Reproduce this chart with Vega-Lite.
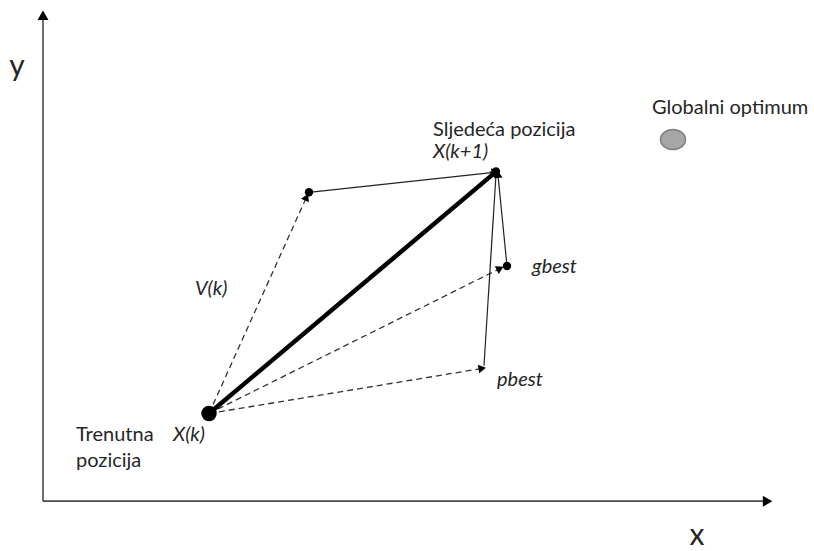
{
  "$schema": "https://vega.github.io/schema/vega-lite/v6.json",
  "width": 814,
  "height": 551,
  "padding": 0,
  "autosize": {"type": "fit", "contains": "padding"},
  "background": "white",
  "config": {"view": {"stroke": null}, "text": {"font": "Lato"}},
  "datasets": {
    "segs": [
      {"id": "yaxis", "kind": "axis", "x1": 0, "y1": 0, "x2": 0, "y2": 486},
      {"id": "xaxis", "kind": "axis", "x1": 0, "y1": 0, "x2": 723, "y2": 0},
      {"id": "v", "kind": "dashed", "x1": 166, "y1": 88, "x2": 263, "y2": 304},
      {"id": "g", "kind": "dashed", "x1": 166, "y1": 88, "x2": 456, "y2": 233},
      {"id": "p", "kind": "dashed", "x1": 166, "y1": 88, "x2": 438, "y2": 133},
      {"id": "vx", "kind": "thin", "x1": 266, "y1": 310, "x2": 451, "y2": 330},
      {"id": "px", "kind": "thin", "x1": 441, "y1": 136, "x2": 453, "y2": 328},
      {"id": "gx", "kind": "thin", "x1": 464, "y1": 236, "x2": 455, "y2": 327},
      {"id": "step", "kind": "thick", "x1": 166, "y1": 88, "x2": 451, "y2": 329}
    ],
    "dots": [
      {"name": "X(k)", "kind": "big", "x": 166, "y": 88},
      {"name": "V", "kind": "small", "x": 266, "y": 310},
      {"name": "gbest", "kind": "small", "x": 464, "y": 236},
      {"name": "X(k+1)", "kind": "small", "x": 453, "y": 331},
      {"name": "opt", "kind": "opt", "x": 630, "y": 363}
    ],
    "labels": [
      {"text": "Globalni optimum", "style": "plain", "x": 609, "y": 395},
      {"text": "Sljedeća pozicija", "style": "plain", "x": 390, "y": 373},
      {"text": "X(k+1)", "style": "italic", "x": 390, "y": 350},
      {"text": "gbest", "style": "italic", "x": 489, "y": 235},
      {"text": "pbest", "style": "italic", "x": 454, "y": 122},
      {"text": "V(k)", "style": "italic", "x": 152, "y": 213},
      {"text": "X(k)", "style": "italic", "x": 130, "y": 66},
      {"text": "Trenutna", "style": "plain", "x": 33, "y": 66},
      {"text": "pozicija", "style": "plain", "x": 33, "y": 40},
      {"text": "y", "style": "axis", "x": -26, "y": 436},
      {"text": "x", "style": "axis", "x": 654, "y": -35}
    ]
  },
  "layer": [
    {
      "data": {"name": "segs"},
      "transform": [{"filter": "datum.kind === 'axis'"}],
      "mark": {"type": "rule", "stroke": "#4a4a4a", "strokeWidth": 1.6},
      "encoding": {
        "x": {"field": "x1", "type": "quantitative", "scale": {"domain": [-43, 771], "nice": false, "zero": false}, "axis": null},
        "y": {"field": "y1", "type": "quantitative", "scale": {"domain": [-48, 503], "nice": false, "zero": false}, "axis": null},
        "x2": {"field": "x2"},
        "y2": {"field": "y2"}
      }
    },
    {
      "data": {"name": "segs"},
      "transform": [{"filter": "datum.kind === 'dashed'"}],
      "mark": {"type": "rule", "stroke": "#333333", "strokeWidth": 1.3, "strokeDash": [6, 4]},
      "encoding": {
        "x": {"field": "x1", "type": "quantitative", "scale": {"domain": [-43, 771], "nice": false, "zero": false}, "axis": null},
        "y": {"field": "y1", "type": "quantitative", "scale": {"domain": [-48, 503], "nice": false, "zero": false}, "axis": null},
        "x2": {"field": "x2"},
        "y2": {"field": "y2"}
      }
    },
    {
      "data": {"name": "segs"},
      "transform": [{"filter": "datum.kind === 'thin'"}],
      "mark": {"type": "rule", "stroke": "#222222", "strokeWidth": 1.2},
      "encoding": {
        "x": {"field": "x1", "type": "quantitative", "scale": {"domain": [-43, 771], "nice": false, "zero": false}, "axis": null},
        "y": {"field": "y1", "type": "quantitative", "scale": {"domain": [-48, 503], "nice": false, "zero": false}, "axis": null},
        "x2": {"field": "x2"},
        "y2": {"field": "y2"}
      }
    },
    {
      "data": {"name": "segs"},
      "transform": [{"filter": "datum.kind === 'thick'"}],
      "mark": {"type": "rule", "stroke": "#000000", "strokeWidth": 4.5},
      "encoding": {
        "x": {"field": "x1", "type": "quantitative", "scale": {"domain": [-43, 771], "nice": false, "zero": false}, "axis": null},
        "y": {"field": "y1", "type": "quantitative", "scale": {"domain": [-48, 503], "nice": false, "zero": false}, "axis": null},
        "x2": {"field": "x2"},
        "y2": {"field": "y2"}
      }
    },
    {
      "data": {"name": "segs"},
      "transform": [
        {"calculate": "atan2(datum.x2 - datum.x1, datum.y2 - datum.y1) * 180 / PI", "as": "ang"}
      ],
      "mark": {"type": "point", "shape": "triangle", "filled": true, "fill": "#000000", "stroke": null, "opacity": 1},
      "encoding": {
        "x": {"field": "x2", "type": "quantitative", "scale": {"domain": [-43, 771], "nice": false, "zero": false}, "axis": null},
        "y": {"field": "y2", "type": "quantitative", "scale": {"domain": [-48, 503], "nice": false, "zero": false}, "axis": null},
        "angle": {"field": "ang", "type": "quantitative", "scale": null},
        "size": {"condition": {"test": "datum.kind === 'axis'", "value": 120}, "value": 75}
      }
    },
    {
      "data": {"name": "dots"},
      "transform": [{"filter": "datum.kind !== 'opt'"}],
      "mark": {"type": "point", "shape": "circle", "filled": true, "fill": "#000000", "stroke": null, "opacity": 1},
      "encoding": {
        "x": {"field": "x", "type": "quantitative", "scale": {"domain": [-43, 771], "nice": false, "zero": false}, "axis": null},
        "y": {"field": "y", "type": "quantitative", "scale": {"domain": [-48, 503], "nice": false, "zero": false}, "axis": null},
        "size": {"condition": {"test": "datum.kind === 'big'", "value": 240}, "value": 70}
      }
    },
    {
      "data": {"name": "dots"},
      "transform": [{"filter": "datum.kind === 'opt'"}],
      "mark": {"type": "point", "shape": "M-1.25,0A1.25,1,0,1,0,1.25,0A1.25,1,0,1,0,-1.25,0Z", "filled": true, "fill": "#a6a6a6", "stroke": "#7f7f7f", "strokeWidth": 1.5, "opacity": 1, "size": 400},
      "encoding": {
        "x": {"field": "x", "type": "quantitative", "scale": {"domain": [-43, 771], "nice": false, "zero": false}, "axis": null},
        "y": {"field": "y", "type": "quantitative", "scale": {"domain": [-48, 503], "nice": false, "zero": false}, "axis": null}
      }
    },
    {
      "data": {"name": "labels"},
      "transform": [{"filter": "datum.style === 'plain'"}],
      "mark": {"type": "text", "align": "left", "baseline": "middle", "fontSize": 20, "color": "#262626"},
      "encoding": {
        "x": {"field": "x", "type": "quantitative", "scale": {"domain": [-43, 771], "nice": false, "zero": false}, "axis": null},
        "y": {"field": "y", "type": "quantitative", "scale": {"domain": [-48, 503], "nice": false, "zero": false}, "axis": null},
        "text": {"field": "text"}
      }
    },
    {
      "data": {"name": "labels"},
      "transform": [{"filter": "datum.style === 'italic'"}],
      "mark": {"type": "text", "align": "left", "baseline": "middle", "fontSize": 20, "fontStyle": "italic", "color": "#262626"},
      "encoding": {
        "x": {"field": "x", "type": "quantitative", "scale": {"domain": [-43, 771], "nice": false, "zero": false}, "axis": null},
        "y": {"field": "y", "type": "quantitative", "scale": {"domain": [-48, 503], "nice": false, "zero": false}, "axis": null},
        "text": {"field": "text"}
      }
    },
    {
      "data": {"name": "labels"},
      "transform": [{"filter": "datum.style === 'axis'"}],
      "mark": {"type": "text", "align": "center", "baseline": "middle", "fontSize": 30, "color": "#262626"},
      "encoding": {
        "x": {"field": "x", "type": "quantitative", "scale": {"domain": [-43, 771], "nice": false, "zero": false}, "axis": null},
        "y": {"field": "y", "type": "quantitative", "scale": {"domain": [-48, 503], "nice": false, "zero": false}, "axis": null},
        "text": {"field": "text"}
      }
    }
  ]
}
